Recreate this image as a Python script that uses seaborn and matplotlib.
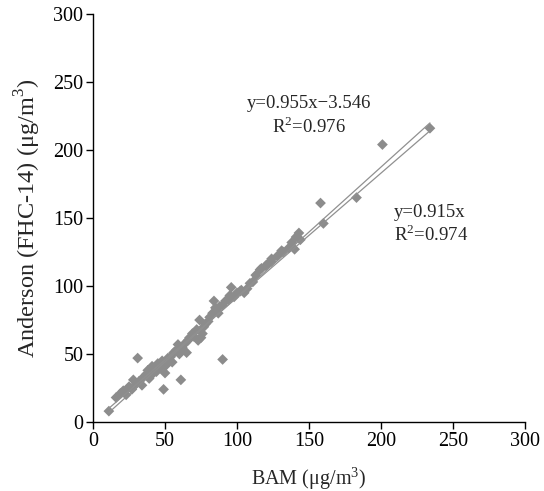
import matplotlib
matplotlib.use("Agg")
import matplotlib.pyplot as plt
import seaborn as sns
import numpy as np
import pandas as pd

bam = [11, 16, 19, 21, 23, 25, 27, 28, 30, 31, 32, 34, 35, 37, 38, 39, 41, 42, 44, 45,
       47, 48, 49, 50, 51, 52, 54, 55, 56, 58, 59, 60, 61, 62, 64, 65, 66, 67, 69, 70,
       72, 73, 74, 75, 76, 77, 78, 80, 81, 83, 84, 85, 87, 88, 90, 90, 92, 94, 95, 96,
       98, 100, 102, 103, 105, 107, 109, 111, 113, 116, 117, 120, 122, 124, 124, 128, 131, 132, 136, 138,
       140, 141, 143, 144, 158, 160, 183, 201, 234]
anderson = [8, 18, 21, 23, 20, 26, 24, 31, 28, 47, 30, 27, 33, 35, 38, 32, 41, 36, 37, 43,
            40, 45, 24, 36, 42, 47, 48, 44, 51, 53, 57, 50, 31, 55, 58, 51, 60, 62, 65, 63,
            68, 60, 75, 62, 65, 70, 72, 74, 77, 80, 89, 84, 80, 85, 46, 86, 89, 90, 93, 99,
            92, 95, 96, 97, 95, 98, 102, 103, 108, 112, 113, 115, 117, 118, 120, 122, 126, 125, 128, 132,
            127, 136, 139, 134, 161, 146, 165, 204, 216]

fit1_slope, fit1_intercept = 0.955, -3.546
fit2_slope = 0.915
fit1_text = "y=0.955x\u22123.546\nR$^2$=0.976"
fit2_text = "y=0.915x\nR$^2$=0.974"
x_ticks = [0, 50, 100, 150, 200, 250, 300]
y_ticks = [0, 50, 100, 150, 200, 250, 300]

df = pd.DataFrame({"BAM": bam, "Anderson": anderson})

sns.set_style("ticks")
plt.rcParams["font.family"] = ["Liberation Serif", "DejaVu Serif"]
plt.rcParams["mathtext.fontset"] = "custom"
plt.rcParams["mathtext.rm"] = "Liberation Serif"

fig = plt.figure(figsize=(5.44, 4.91), dpi=100)
ax = fig.add_axes([0.171, 0.1405, 0.794, 0.831])

sns.scatterplot(data=df, x="BAM", y="Anderson", marker="D", s=30,
                color="#8c8c8c", edgecolor="none", ax=ax, zorder=2)

xs = np.array([min(bam), max(bam)])
ax.plot(xs, fit1_slope * xs + fit1_intercept, color="#909090", lw=0.9, zorder=3)
ax.plot(xs, fit2_slope * xs, color="#909090", lw=0.9, zorder=3)

ax.text(150, 225, fit1_text, ha="center", va="center", fontsize=13.5, linespacing=1.2)
ax.text(209, 145, fit2_text, ha="left", va="center", fontsize=13.5, linespacing=1.2)

ax.set_xlim(0, 300)
ax.set_ylim(0, 300)
ax.set_xticks(x_ticks)
ax.set_yticks(y_ticks)
ax.tick_params(direction="out", length=5, width=1, labelsize=14.5, colors="black", pad=2)
for s in ["left", "bottom"]:
    ax.spines[s].set_color("black")
    ax.spines[s].set_linewidth(1)
sns.despine(ax=ax)
ax.set_xlabel("BAM (\u03bcg/m$^3$)", fontsize=14.5, labelpad=10)
ax.set_ylabel("Anderson (FHC-14) (\u03bcg/m$^3$)", fontsize=17.5, labelpad=7)

fig.savefig("out.png", dpi=100)
